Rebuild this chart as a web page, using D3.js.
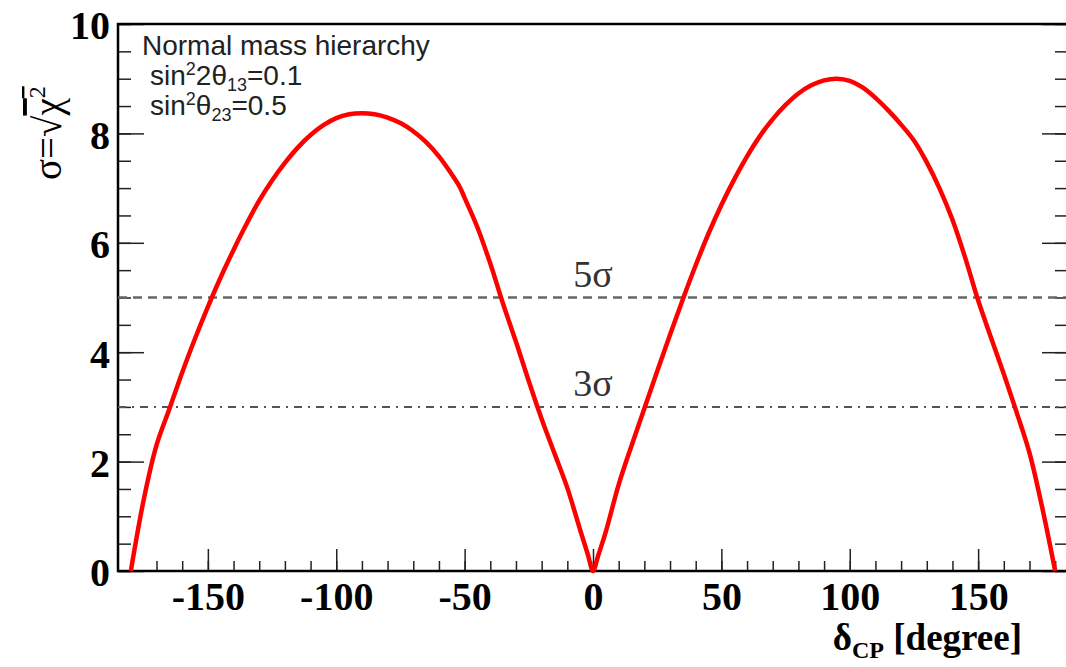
<!DOCTYPE html>
<html>
<head>
<meta charset="utf-8">
<script src="https://cdn.jsdelivr.net/npm/d3@7"></script>
<style>
  body { margin: 0; background: #fff; }
</style>
</head>
<body>
<div id="chart"></div>
<script>
// delta_CP (degree) and sqrt(chi^2)
const deltaCP = [
  -180, -175, -170, -165, -160, -155, -150, -145, -140, -135, -130, -125, -120,
  -115, -110, -105, -100, -95, -90, -85, -80, -75, -70, -65, -60, -55, -52,
  -50, -45, -40, -35, -30, -25, -20, -15, -10, -5, -2, 0,
  2, 5, 10, 15, 20, 25, 30, 35, 40, 45, 50, 55, 60, 65, 70, 75, 80, 85, 90,
  95, 100, 105, 110, 115, 120, 125, 130, 135, 140, 145, 150, 155, 160, 165,
  170, 175, 180
];
const sigmaValues = [
  0, 1.30, 2.30, 2.96, 3.63, 4.25, 4.83, 5.37, 5.87, 6.34, 6.77, 7.14, 7.46,
  7.74, 7.97, 8.15, 8.28, 8.35, 8.37, 8.35, 8.29, 8.19, 8.04, 7.84, 7.58, 7.25, 7.03,
  6.82, 6.28, 5.62, 4.88, 4.19, 3.47, 2.78, 2.15, 1.52, 0.75, 0.30, 0,
  0.28, 0.72, 1.58, 2.29, 2.97, 3.65, 4.32, 4.97, 5.59, 6.17, 6.69, 7.16, 7.58, 7.95, 8.26, 8.52, 8.73, 8.88, 8.97,
  9.00, 8.96, 8.84, 8.65, 8.42, 8.16, 7.87, 7.47, 6.99, 6.42, 5.72, 4.95, 4.27, 3.60, 2.90,
  2.16, 1.15, 0
];
const xTicks = [-150, -100, -50, 0, 50, 100, 150];
const yTicks = [0, 2, 4, 6, 8, 10];
const levels = [5, 3];
const levelLabels = ["5σ", "3σ"];

const width = 1066;
const height = 667;
const frameLeft = 118, frameRight = 1068, frameTop = 24, frameBottom = 571;

const svg = d3.select("#chart")
  .append("svg")
  .attr("width", width)
  .attr("height", height)
  .style("display", "block");

const x = d3.scaleLinear().domain([-185, 185]).range([frameLeft, frameRight]);
const y = d3.scaleLinear().domain([0, 10]).range([frameBottom, frameTop]);

const serif = "'Liberation Serif', 'Times New Roman', serif";
const sans = "'Liberation Sans', Arial, sans-serif";

// minor + major ticks, all pointing inside the frame
function styleAxis(g) {
  g.select(".domain").remove();
  g.attr("color", "#222");
  g.selectAll("line").attr("stroke-width", 1.5);
}

svg.append("g")
  .attr("transform", "translate(0," + frameBottom + ")")
  .call(d3.axisBottom(x).tickValues(d3.range(-180, 181, 10)).tickSize(-10).tickFormat(""))
  .call(styleAxis);

svg.append("g")
  .attr("transform", "translate(0," + frameBottom + ")")
  .call(d3.axisBottom(x).tickValues(xTicks).tickSize(-22).tickFormat(d => String(d)))
  .call(styleAxis)
  .call(g => g.selectAll("text")
    .attr("y", 39)
    .attr("dy", null)
    .attr("fill", "#000")
    .attr("font-family", serif)
    .attr("font-weight", "bold")
    .attr("font-size", "40px"));

svg.append("g")
  .attr("transform", "translate(" + frameLeft + ",0)")
  .call(d3.axisLeft(y).tickValues(d3.range(0, 10.01, 0.5)).tickSize(-13).tickFormat(""))
  .call(styleAxis);

svg.append("g")
  .attr("transform", "translate(" + frameLeft + ",0)")
  .call(d3.axisLeft(y).tickValues(yTicks).tickSize(-26).tickFormat(d => String(d)))
  .call(styleAxis)
  .call(g => g.selectAll("text")
    .attr("x", -8)
    .attr("dy", "0.37em")
    .attr("fill", "#000")
    .attr("font-family", serif)
    .attr("font-weight", "bold")
    .attr("font-size", "40px"));

svg.append("g")
  .attr("transform", "translate(" + frameRight + ",0)")
  .call(d3.axisRight(y).tickValues(d3.range(0, 10.01, 0.5)).tickSize(-13).tickFormat(""))
  .call(styleAxis);

svg.append("g")
  .attr("transform", "translate(" + frameRight + ",0)")
  .call(d3.axisRight(y).tickValues(yTicks).tickSize(-26).tickFormat(""))
  .call(styleAxis);

// frame
svg.append("rect")
  .attr("x", frameLeft)
  .attr("y", frameTop)
  .attr("width", frameRight - frameLeft)
  .attr("height", frameBottom - frameTop)
  .attr("fill", "none")
  .attr("stroke", "#000")
  .attr("stroke-width", 2.5);

// 5 sigma and 3 sigma lines
svg.selectAll(".level")
  .data(levels)
  .enter()
  .append("line")
  .attr("class", "level")
  .attr("x1", frameLeft)
  .attr("x2", frameRight)
  .attr("y1", d => y(d))
  .attr("y2", d => y(d))
  .attr("stroke", (d, i) => i === 0 ? "#666" : "#555")
  .attr("stroke-width", (d, i) => i === 0 ? 2.5 : 2)
  .attr("stroke-dasharray", (d, i) => i === 0 ? "9,6" : "8,6,2,6");

svg.selectAll(".level-label")
  .data(levels)
  .enter()
  .append("text")
  .attr("class", "level-label")
  .attr("x", x(0))
  .attr("y", d => y(d) - 11)
  .attr("text-anchor", "middle")
  .attr("font-family", serif)
  .attr("font-size", "38px")
  .attr("fill", "#333")
  .text((d, i) => levelLabels[i]);

// the curve
const points = deltaCP.map((d, i) => [d, sigmaValues[i]]);
const line = d3.line()
  .x(d => x(d[0]))
  .y(d => y(d[1]))
  .curve(d3.curveCatmullRom.alpha(0.5));

svg.append("path")
  .datum(points)
  .attr("d", line)
  .attr("fill", "none")
  .attr("stroke", "#ff0000")
  .attr("stroke-width", 4.5)
  .attr("stroke-linejoin", "round");

// legend text
const legend = svg.append("g")
  .attr("font-family", sans)
  .attr("font-size", "28px")
  .attr("fill", "#222");

legend.append("text")
  .attr("x", 142)
  .attr("y", 55)
  .text("Normal mass hierarchy");

function addScript(t, base, sup, rest, sub, tail) {
  t.append("tspan").text(base);
  t.append("tspan").attr("dy", -10).attr("font-size", "18px").text(sup);
  t.append("tspan").attr("dy", 10).text(rest);
  t.append("tspan").attr("dy", 6).attr("font-size", "18px").text(sub);
  t.append("tspan").attr("dy", -6).text(tail);
}

addScript(legend.append("text").attr("x", 150).attr("y", 85), "sin", "2", "2θ", "13", "=0.1");
addScript(legend.append("text").attr("x", 150).attr("y", 115), "sin", "2", "θ", "23", "=0.5");

// y title
const yTitle = svg.append("text")
  .attr("transform", "translate(61,180) rotate(-90)")
  .attr("font-family", serif)
  .attr("font-size", "39px")
  .attr("fill", "#000");
yTitle.append("tspan").text("σ=√");
yTitle.append("tspan").style("text-decoration", "overline").text("χ");
yTitle.append("tspan").attr("dy", -16).attr("font-size", "24px").style("text-decoration", "overline").text("2");

// x title
const xTitle = svg.append("text")
  .attr("x", 1022)
  .attr("y", 650)
  .attr("text-anchor", "end")
  .attr("font-family", serif)
  .attr("font-weight", "bold")
  .attr("font-size", "37px")
  .attr("fill", "#000");
xTitle.append("tspan").text("δ");
xTitle.append("tspan").attr("dy", 8).attr("font-size", "24px").text("CP");
xTitle.append("tspan").attr("dy", -8).text(" [degree]");
</script>
</body>
</html>
